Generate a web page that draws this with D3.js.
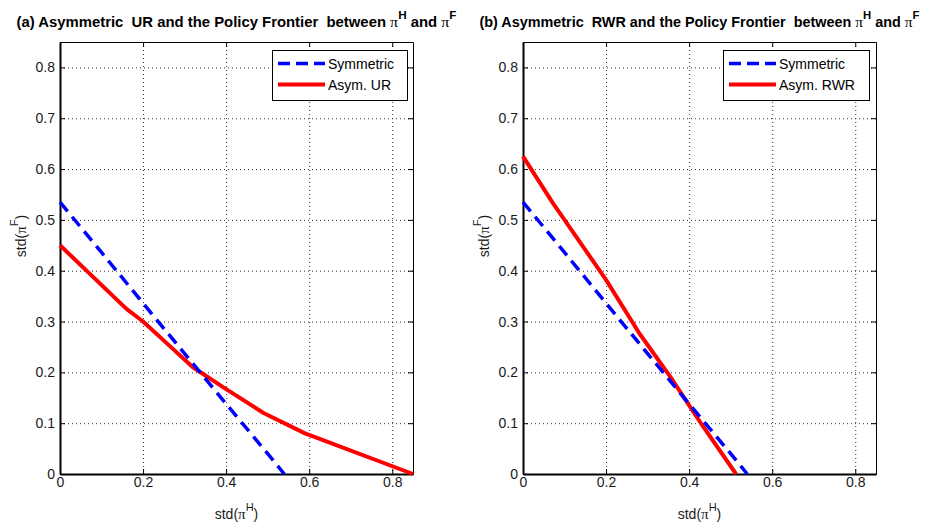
<!DOCTYPE html>
<html>
<head>
<meta charset="utf-8">
<script src="https://cdn.jsdelivr.net/npm/d3@7"></script>
<style>
  html, body { margin: 0; padding: 0; background: #fff; }
  svg { display: block; font-family: "Liberation Sans", Arial, sans-serif; }
</style>
</head>
<body>
<svg id="chart" width="925" height="524"></svg>
<script>
// ---- data ----
const xTicks = [0, 0.2, 0.4, 0.6, 0.8];
const yTicks = [0, 0.1, 0.2, 0.3, 0.4, 0.5, 0.6, 0.7, 0.8];
const xTickLabels = ["0", "0.2", "0.4", "0.6", "0.8"];
const yTickLabels = ["0", "0.1", "0.2", "0.3", "0.4", "0.5", "0.6", "0.7", "0.8"];

const symX = [0, 0.1, 0.2, 0.3, 0.4, 0.5, 0.54];
const symY = [0.535, 0.436, 0.336, 0.237, 0.138, 0.04, 0];

const urX = [0, 0.16, 0.2, 0.26, 0.32, 0.40, 0.49, 0.59, 0.85];
const urY = [0.45, 0.325, 0.30, 0.255, 0.21, 0.167, 0.12, 0.08, 0];

const rwrX = [0, 0.072, 0.2, 0.28, 0.354, 0.434, 0.513];
const rwrY = [0.625, 0.533, 0.382, 0.277, 0.192, 0.093, 0];

const panelTitles = [
  "(a) Asymmetric  UR and the Policy Frontier  between ",
  "(b) Asymmetric  RWR and the Policy Frontier  between "
];
const legendLabels = [["Symmetric", "Asym. UR"], ["Symmetric", "Asym. RWR"]];

// ---- drawing ----
const svg = d3.select("#chart");
const plotTop = 42, plotBottom = 474;
const panels = [
  { x0: 60, x1: 413, sym: [symX, symY], asym: [urX, urY], title: panelTitles[0], legend: legendLabels[0], legX: 272, legW: 135 },
  { x0: 523, x1: 876, sym: [symX, symY], asym: [rwrX, rwrY], title: panelTitles[1], legend: legendLabels[1], legX: 723, legW: 146 }
];

panels.forEach(p => {
  const x = d3.scaleLinear().domain([0, 0.85]).range([p.x0, p.x1]);
  const y = d3.scaleLinear().domain([0, 0.85]).range([plotBottom, plotTop]);
  const g = svg.append("g");

  // grid
  const grid = g.append("g").attr("stroke", "#333").attr("stroke-width", 1).attr("stroke-dasharray", "1,3");
  xTicks.filter(v => v > 0).forEach(v => {
    grid.append("line").attr("x1", x(v) + 0.5).attr("x2", x(v) + 0.5).attr("y1", plotTop).attr("y2", plotBottom);
  });
  yTicks.filter(v => v > 0).forEach(v => {
    grid.append("line").attr("y1", y(v) + 0.5).attr("y2", y(v) + 0.5).attr("x1", p.x0).attr("x2", p.x1);
  });

  // axes
  const fmtX = d => xTickLabels[xTicks.indexOf(d)];
  const fmtY = d => yTickLabels[yTicks.indexOf(d)];
  const ax = g.append("g").attr("transform", `translate(0,${plotBottom})`)
    .call(d3.axisBottom(x).tickValues(xTicks).tickFormat(fmtX).tickSizeInner(-5).tickSizeOuter(0).tickPadding(3));
  const axT = g.append("g").attr("transform", `translate(0,${plotTop})`)
    .call(d3.axisTop(x).tickValues(xTicks).tickFormat("").tickSizeInner(-5).tickSizeOuter(0));
  const ay = g.append("g").attr("transform", `translate(${p.x0},0)`)
    .call(d3.axisLeft(y).tickValues(yTicks).tickFormat(fmtY).tickSizeInner(-5).tickSizeOuter(0).tickPadding(5));
  const ayR = g.append("g").attr("transform", `translate(${p.x1},0)`)
    .call(d3.axisRight(y).tickValues(yTicks).tickFormat("").tickSizeInner(-5).tickSizeOuter(0));
  [ax, ay].forEach(a => {
    a.selectAll("text").attr("font-size", 14).attr("fill", "#1a1a1a").attr("font-family", "Liberation Sans, Arial, sans-serif");
    a.select(".domain").attr("stroke-width", 2);
  });
  [axT, ayR].forEach(a => a.select(".domain").attr("stroke-width", 1));

  // lines
  const line = d3.line().x(d => x(d[0])).y(d => y(d[1]));
  const symPts = p.sym[0].map((v, i) => [v, p.sym[1][i]]);
  const asymPts = p.asym[0].map((v, i) => [v, p.asym[1][i]]);
  g.append("path").datum(asymPts).attr("d", line).attr("fill", "none")
    .attr("stroke", "#ff0000").attr("stroke-width", 4).attr("stroke-linejoin", "round");
  g.append("path").datum(symPts).attr("d", line).attr("fill", "none")
    .attr("stroke", "#0000ff").attr("stroke-width", 3.5).attr("stroke-dasharray", "12,7");

  // legend
  const lg = g.append("g");
  lg.append("rect").attr("x", p.legX + 0.5).attr("y", 50.5).attr("width", p.legW).attr("height", 50)
    .attr("fill", "#fff").attr("stroke", "#000").attr("stroke-width", 1);
  lg.append("line").attr("x1", p.legX + 6).attr("x2", p.legX + 53).attr("y1", 63.5).attr("y2", 63.5)
    .attr("stroke", "#0000ff").attr("stroke-width", 3.5).attr("stroke-dasharray", "12,6");
  lg.append("line").attr("x1", p.legX + 6).attr("x2", p.legX + 53).attr("y1", 84.5).attr("y2", 84.5)
    .attr("stroke", "#ff0000").attr("stroke-width", 4);
  lg.append("text").attr("x", p.legX + 56).attr("y", 69).attr("font-size", 14).text(p.legend[0]);
  lg.append("text").attr("x", p.legX + 56).attr("y", 90).attr("font-size", 14).text(p.legend[1]);

  // title
  const cx = (p.x0 + p.x1) / 2;
  const t = svg.append("text").attr("x", cx).attr("y", 27).attr("text-anchor", "middle")
    .attr("font-size", 14).attr("font-weight", "bold").style("white-space", "pre");
  t.append("tspan").text(p.title);
  t.append("tspan").attr("font-family", "Liberation Serif, serif").attr("font-weight", "normal").attr("font-size", 15).text("π");
  t.append("tspan").attr("font-size", 11).attr("dy", -8).text("H");
  t.append("tspan").attr("dy", 8).text(" and ");
  t.append("tspan").attr("font-family", "Liberation Serif, serif").attr("font-weight", "normal").attr("font-size", 15).text("π");
  t.append("tspan").attr("font-size", 11).attr("dy", -8).text("F");
  const w = t.node().getComputedTextLength();
  const target = 440;
  if (Math.abs(w - target) > 4) t.attr("textLength", target).attr("lengthAdjust", "spacingAndGlyphs");

  // x label
  const xl = svg.append("text").attr("x", cx).attr("y", 519).attr("text-anchor", "middle").attr("font-size", 14).attr("fill", "#1a1a1a");
  xl.append("tspan").text("std(");
  xl.append("tspan").attr("font-family", "Liberation Serif, serif").attr("font-size", 15).text("π");
  xl.append("tspan").attr("font-size", 11).attr("dy", -8).text("H");
  xl.append("tspan").attr("dy", 8).text(")");

  // y label
  const ylx = p.x0 - 34, yly = 236;
  const yl = svg.append("text").attr("transform", `translate(${ylx},${yly}) rotate(-90)`).attr("text-anchor", "middle").attr("font-size", 14).attr("fill", "#1a1a1a");
  yl.append("tspan").text("std(");
  yl.append("tspan").attr("font-family", "Liberation Serif, serif").attr("font-size", 15).text("π");
  yl.append("tspan").attr("font-size", 11).attr("dy", -8).text("F");
  yl.append("tspan").attr("dy", 8).text(")");
});
</script>
</body>
</html>
